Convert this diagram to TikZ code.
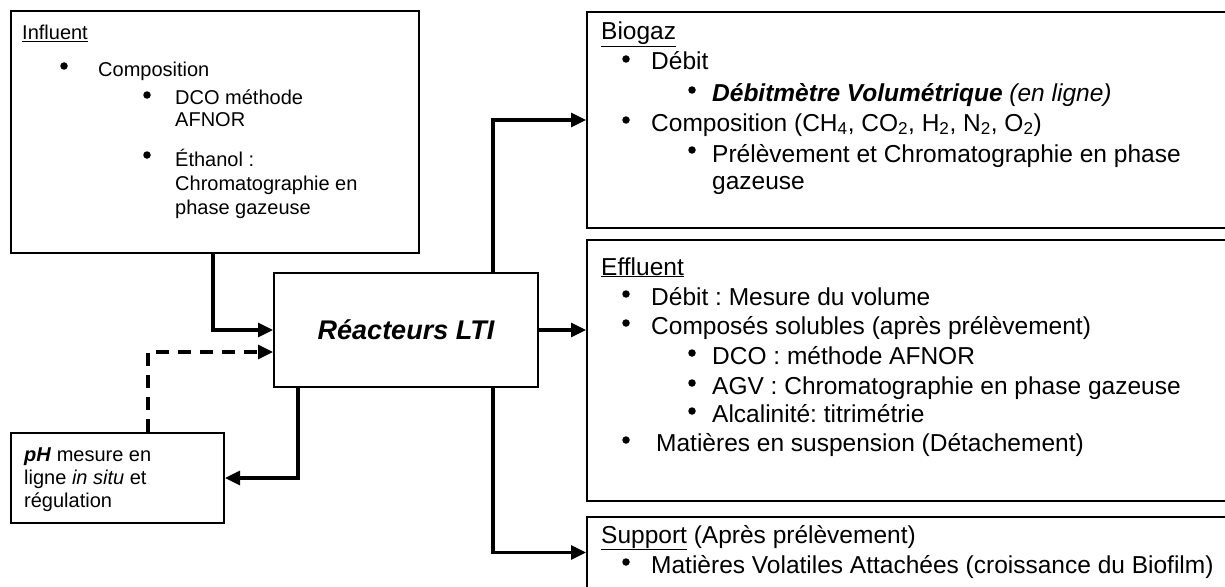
\documentclass[tikz,border=0pt]{standalone}
\usepackage{fontspec}
\setmainfont{Liberation Sans}
\frenchspacing
\usetikzlibrary{arrows.meta,calc}
\begin{document}
\begin{tikzpicture}[x=1pt,y=-1pt,
  box/.style={draw, line width=2pt, inner sep=0pt, anchor=north west},
  conn/.style={line width=3.2pt, -{Triangle[length=15pt,width=14pt]}},
  dconn/.style={conn, dash pattern=on 13pt off 9pt},
  tl/.style={anchor=base west, inner sep=0pt, font=\fontsize{20}{23}\selectfont},
  tr/.style={anchor=base west, inner sep=0pt, font=\fontsize{24.5}{28}\selectfont},
  dot/.style={circle, fill=black, inner sep=0pt, minimum size=7.5pt},
]
\useasboundingbox (0,0) rectangle (1225,586);
\clip (0,0) rectangle (1225,586);
\fill[white] (0,0) rectangle (1225,586);

% boxes
\node[box, minimum width=408pt, minimum height=242pt] (influent) at (10,10) {};
\node[box, minimum width=213pt, minimum height=90pt] (ph) at (10,432) {};
\node[box, anchor=center, minimum width=264pt, minimum height=114pt,
      font=\fontsize{27}{30}\selectfont\bfseries\itshape] (reactor) at (406,330) {Réacteurs LTI};
\node[box, minimum width=660pt, minimum height=216pt] (biogaz) at (586,11) {};
\node[box, minimum width=660pt, minimum height=261pt] (effluent) at (586,239) {};
\node[box, minimum width=660pt, minimum height=71pt] (support) at (586,516) {};

% Influent text
\node[tl] (i0) at (22,40) {\underline{Influent}};
\node[dot] (i1b) at (64,66) {};
\node[tl] (i1) at (98,76) {Composition};
\node[dot] (i2b) at (147,95) {};
\node[tl] (i2) at (175,104) {DCO méthode};
\node[tl] (i2a) at (175,126) {AFNOR};
\node[dot] (i3b) at (147,155) {};
\node[tl] (i3) at (175,166) {Éthanol :};
\node[tl] (i3a) at (175,190) {Chromatographie en};
\node[tl] (i3c) at (175,214) {phase gazeuse};

% pH text
\node[tl] (p1) at (24,461) {\textbf{\textit{pH}} mesure en};
\node[tl] (p2) at (24,484) {ligne \textit{in situ} et};
\node[tl] (p3) at (24,507) {régulation};

% Biogaz text
\node[tr] (b0) at (601,40) {\underline{Biogaz}};
\node[dot] (b1b) at (626,59) {};
\node[tr] (b1) at (651,70) {Débit};
\node[dot] (b2b) at (692,90) {};
\node[tr] (b2) at (712,101) {\textbf{\textit{Débitmètre Volumétrique}} \textit{(en ligne)}};
\node[dot] (b3b) at (626,120) {};
\node[tr] (b3) at (651,131) {Composition (CH\textsubscript{4}, CO\textsubscript{2}, H\textsubscript{2}, N\textsubscript{2}, O\textsubscript{2})};
\node[dot] (b4b) at (692,150) {};
\node[tr] (b4) at (712,162) {Prélèvement et Chromatographie en phase};
\node[tr] (b4a) at (712,189) {gazeuse};

% Effluent text
\node[tr] (e0) at (601,275) {\underline{Effluent}};
\node[dot] (e1b) at (626,294) {};
\node[tr] (e1) at (651,305) {Débit : Mesure du volume};
\node[dot] (e2b) at (626,323) {};
\node[tr] (e2) at (651,334) {Composés solubles (après prélèvement)};
\node[dot] (e3b) at (692,353) {};
\node[tr] (e3) at (712,364) {DCO : méthode AFNOR};
\node[dot] (e4b) at (692,383) {};
\node[tr] (e4) at (712,394) {AGV : Chromatographie en phase gazeuse};
\node[dot] (e5b) at (692,411) {};
\node[tr] (e5) at (712,422) {Alcalinité: titrimétrie};
\node[dot] (e6b) at (626,440) {};
\node[tr] (e6) at (656,451) {Matières en suspension (Détachement)};

% Support text
\node[tr] (s0) at (601,543) {\underline{Support} (Après prélèvement)};
\node[dot] (s1b) at (626,562) {};
\node[tr] (s1) at (651,573) {Matières Volatiles Attachées (croissance du Biofilm)};

% connectors
\draw[conn] ([xshift=203pt]influent.south west) |- (reactor.west);
\draw[dconn] ([xshift=138pt]ph.north west) |- ([yshift=-22pt]reactor.west);
\draw[conn] ([xshift=25pt]reactor.south west) |- (ph.east);
\draw[conn] ([xshift=220pt]reactor.north west) |- (biogaz.west);
\draw[conn] (reactor.east) -- (reactor.east -| effluent.west);
\draw[conn] ([xshift=220pt]reactor.south west) |- (support.west);
\end{tikzpicture}
\end{document}
